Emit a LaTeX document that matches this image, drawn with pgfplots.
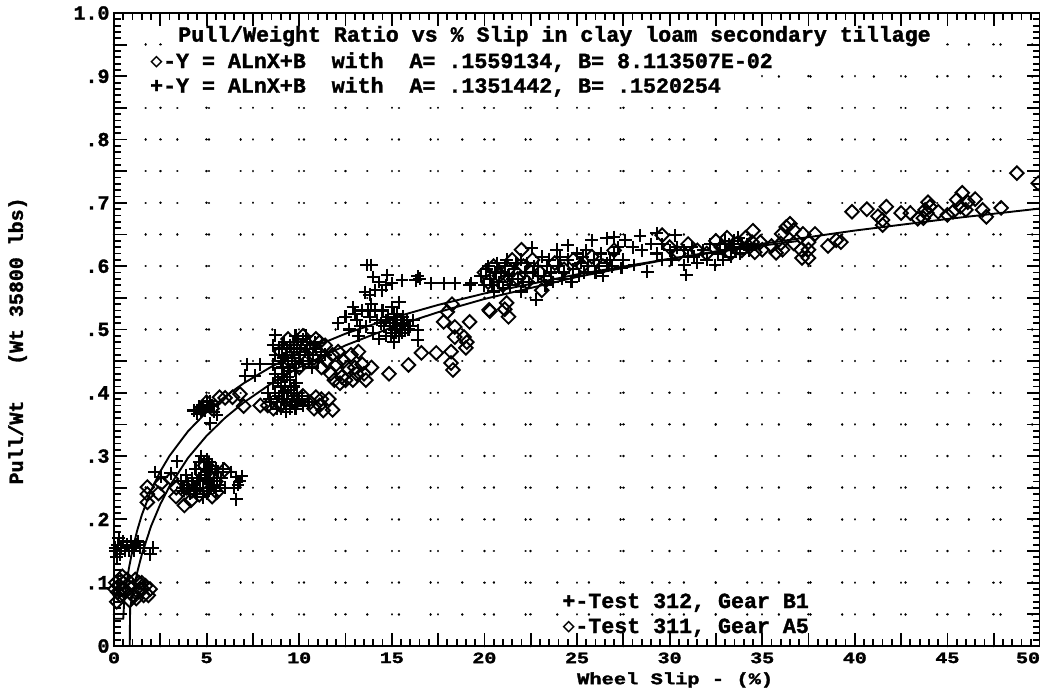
\documentclass[border=0pt]{standalone}
\usepackage{fontspec}
\usepackage{graphicx}
\usepackage{pgfplots}
\pgfplotsset{compat=1.18}
\setmainfont{Liberation Mono}[BoldFeatures={FakeBold=1.6}]
\newfontfamily\symfont{DejaVu Sans Mono}
\newcommand\sq[1]{\scalebox{1}[.8]{#1}}
\newcommand\dia{\makebox[.6em]{\symfont\bfseries\raisebox{.02em}{\scalebox{.95}{◇}}}}
\begin{document}
\begin{tikzpicture}[x=1bp,y=1bp]
\path[use as bounding box] (0,0) rectangle (1040,688);
\begin{axis}[
  at={(114bp,42bp)}, anchor=south west, scale only axis,
  width=926bp, height=633bp,
  xmin=0, xmax=50, ymin=0, ymax=1, clip=false,
  tick align=inside, axis line style={line width=2.6bp},
  major tick length=13bp, minor tick length=7bp,
  every tick/.style={black,line width=1.8bp},
  minor tick style={line width=1.8bp},
  xtick={0,2.5,...,50},
  xticklabels={\sq{0},,\sq{5},,\sq{10},,\sq{15},,\sq{20},,\sq{25},,\sq{30},,\sq{35},,\sq{40},,\sq{45},,\sq{\makebox[0pt][r]{50}}},
  ytick={0,.05,.1,.15,.2,.25,.3,.35,.4,.45,.5,.55,.6,.65,.7,.75,.8,.85,.9,.95,1},
  yticklabels={0,,.1,,.2,,.3,,.4,,.5,,.6,,.7,,.8,,.9,,1.0},
  minor x tick num=4, minor y tick num=4,
  tick label style={font=\fontsize{20}{20}\selectfont\bfseries},
  xtick pos=both, ytick pos=both,
  xticklabel pos=bottom, yticklabel pos=left,
  x tick label style={yshift=-3bp},
  y tick label style={xshift=-1bp},
  grid=major,
  major grid style={draw=black,line width=2.5bp,line cap=round,dash pattern=on 0.01pt off 31.65bp},
  xlabel={\sq{Wheel Slip - (\%)}},
  xlabel style={at={(axis cs:30.3,-.0537)},anchor=center,font=\fontsize{20.5}{20.5}\selectfont\bfseries},
  ylabel={Pull/Wt~~~(Wt 35800 lbs)},
  ylabel style={at={(axis cs:-5.2,.482)},anchor=center,font=\fontsize{20}{20}\selectfont\bfseries},
]
\fill[white] (axis cs:1.4,.9226) rectangle (axis cs:34.6,.8626);
\fill[white] (axis cs:3.3,.973) rectangle (axis cs:44.6,.9226);

% fitted curves
\addplot[black,line width=1.9bp,no marks] coordinates {
(.05,.043)(.5,.043)(.55,.07)(.6,.083)(.8,.1219)(1,.152)(1.25,.1822)(1.5,.2068)(2,.2457)(2.5,.2758)(3,.3005)(4,.3394)(5,.3695)(6,.3942)(7,.415)(8.5,.4412)(10,.4632)(12.5,.4934)(15,.518)(17.5,.5388)(20,.5569)(25,.587)(30,.6117)(35,.6325)(37,.640)};
\addplot[black,line width=1.9bp,no marks] coordinates {
(.85,0)(.87,.06)(1,.0811)(1.25,.1159)(1.5,.1443)(2,.1892)(2.5,.2240)(3,.2524)(4,.2973)(5,.3321)(6,.3605)(7,.3845)(8.5,.4148)(10,.4401)(12.5,.4749)(15,.5034)(17.5,.5273)(20,.5482)(25,.5830)(30,.6114)(35,.6354)(40,.6563)(45,.6746)(50,.6911)};

% Test 312, Gear B1
\addplot[only marks,mark=+,mark size=6.4bp,mark options={line width=2.1bp,black}] coordinates {
(.1,.15)(.2,.16)(.3,.145)(.4,.155)(.5,.165)(.6,.15)(.7,.16)(.8,.15)(.9,.165)(1,.155)(1.1,.15)(1.2,.16)(1.3,.165)(1.4,.155)(1.6,.155)(.15,.14)(.25,.17)(.05,.155)(2.1,.155)(1.95,.145)
(2.2,.275)(3.4,.292)(2.55,.267)(3.06,.273)(4.7,.30)(6.6,.267)(6.9,.268)(6.6,.232)(6.5,.25)(6.8,.26)(6.3,.275)(6.7,.255)
(3.6,.26)(3.8,.245)(3.9,.27)(4,.255)(4.1,.24)(4.2,.265)(4.3,.25)(4.4,.28)(4.5,.26)(4.5,.24)(4.6,.29)(4.7,.27)(4.8,.25)(4.8,.235)(4.9,.28)(5,.295)(5,.26)(5.1,.245)(5.2,.275)(5.3,.285)(5.3,.255)(5.4,.265)(5.5,.245)(5.6,.275)(5.7,.255)(5.8,.265)(6,.25)(5.9,.28)
(3.7,.25)(3.95,.26)(4.25,.255)(4.4,.245)(4.6,.265)(4.65,.25)(4.9,.265)(5,.24)(5.15,.26)(5.25,.25)(5.4,.25)(5.55,.26)(5.05,.275)(4.85,.29)(5.15,.29)(5.5,.28)
(4.3,.372)(4.5,.367)(4.6,.378)(4.7,.37)(4.8,.38)(4.9,.372)(5,.385)(5.1,.378)(5.2,.387)(5.3,.38)(5.4,.37)(5.2,.352)(5.56,.365)
(7.2,.445)(7.9,.445)(7.07,.427)(7.6,.427)
(8.7,.491)(8.6,.475)(8.7,.46)(8.6,.445)(8.9,.47)(9,.45)(9.2,.48)(9.3,.46)(9.1,.44)(9.5,.475)(9.6,.455)(9.4,.44)(9.8,.49)(9.9,.47)(10,.45)(9.8,.435)(10.2,.485)(10.3,.465)(10.2,.445)(10.6,.48)(10.5,.46)(10.7,.44)(10.9,.47)(11,.45)(11.2,.465)(11.4,.46)(9.7,.48)(10.1,.475)(9.2,.43)
(9.05,.47)(9.35,.47)(9.7,.465)(9.75,.445)(10.05,.46)(10.4,.475)(10.55,.45)(10.75,.46)(9.15,.455)(9.5,.435)(9.95,.485)(10.35,.49)(10.85,.48)(9.4,.45)
(8.3,.40)(8.5,.385)(8.6,.415)(8.8,.375)(8.9,.395)(9,.41)(9.2,.385)(9.3,.37)(9.4,.40)(9.5,.42)(9.6,.385)(9.8,.375)(9.9,.40)(10,.39)(10.2,.38)(10.5,.385)(9.1,.425)(8.7,.43)(9.7,.41)(8.4,.39)
(8.7,.40)(8.8,.385)(9,.375)(9.05,.39)(9.15,.40)(9.35,.39)(9.5,.375)(9.55,.405)(9.7,.395)(9.75,.38)(9.9,.385)(9.85,.415)(9.25,.41)(8.85,.42)(9.35,.425)(10.15,.395)
(12.1,.51)(12.5,.52)(12.7,.50)(12.9,.535)(13.1,.515)(13.2,.49)(13.4,.53)(13.6,.505)(13.8,.52)(13.9,.54)(14,.495)(14.2,.515)(14.3,.485)(14.5,.53)(14.6,.505)(14.7,.49)(14.8,.52)(14.9,.51)(15,.535)(15,.495)(15.1,.48)(15.2,.515)(15.3,.505)(15.3,.525)(15.4,.543)(15.4,.49)(15.5,.51)(15.6,.52)(15.7,.50)(15.8,.515)(16,.505)(16.15,.515)(16.4,.499)(16.4,.483)
(13,.525)(13.3,.505)(13.7,.53)(14.1,.53)(14.4,.51)(14.7,.515)(15.05,.51)(15.15,.5)(15.25,.495)(15.45,.50)(15.55,.495)(15.65,.51)(15.9,.5)(15.1,.525)(14.95,.49)
(13.65,.602)(13.9,.602)(14,.583)(13.55,.559)(14.75,.586)(14.45,.562)(15,.573)(15.55,.578)(16.4,.584)(16.5,.58)(16.3,.578)(17.1,.573)(17.8,.573)(18.4,.573)(19.3,.573)(14.1,.562)(13.8,.555)(14.3,.575)(14.7,.57)(19.2,.57)
(19.8,.585)(20,.57)(20.1,.595)(20.3,.58)(20.5,.56)(20.6,.59)(20.8,.575)(21,.565)(21.1,.60)(21.3,.585)(21.4,.57)(21.6,.595)(21.8,.58)(22,.56)(22,.61)(22.2,.59)(22.4,.575)(22.55,.629)(22.7,.60)(22.8,.547)(22.9,.585)(23.1,.615)(23.3,.57)(23.4,.60)(23.6,.59)(23.9,.626)(24,.60)(24.2,.58)(24.5,.633)(24.5,.61)(24.8,.595)(25,.62)(25.2,.605)(25.4,.59)(25.5,.625)(25.8,.641)(25.9,.61)(26.2,.60)(26.3,.62)(26.6,.644)(26.6,.605)(27,.646)(27,.62)(27.4,.597)(27.6,.641)(27.5,.61)(28,.63)(28.1,.602)(28.4,.648)(28.8,.591)(28.5,.625)(29,.635)(29.3,.652)(29.3,.62)(29.6,.635)(30,.625)(30.3,.649)(30.4,.63)(30.8,.602)(30.9,.586)(30.8,.625)(31.2,.63)(31.5,.605)(31.8,.625)(32.2,.635)(32.45,.602)(32.6,.62)(33,.64)(33,.625)(33.4,.63)(33.7,.645)(33.8,.62)(34.2,.635)
(20.2,.60)(20.7,.605)(21.2,.61)(21.7,.605)(22.3,.605)(22.9,.60)(23.2,.585)(23.7,.575)(24.3,.59)(24.7,.575)(25.1,.585)(25.6,.60)(26,.59)(26.4,.585)(26.9,.60)(27.2,.63)(20.4,.57)(20.9,.59)(21.5,.58)(22.1,.575)(22.6,.59)(23.5,.61)(24.1,.615)(25.3,.615)(26.8,.61)
(29.6,.61)(30.1,.61)(31,.615)(31.3,.615)(32,.61)(32.9,.61)(33.3,.615)(33.5,.64)(33.9,.635)(34.3,.625)(32.7,.635)(33.2,.635)
};

% Test 311, Gear A5
\addplot[only marks,mark=diamond,mark size=6.8bp,mark options={line width=1.9bp,black,xscale=1.33}] coordinates {
(.1,.1)(.2,.085)(.3,.105)(.4,.09)(.5,.1)(.6,.085)(.15,.07)(.7,.105)(.35,.08)(.05,.09)(.25,.095)(.45,.11)(.55,.09)
(1.15,.105)(1.3,.085)(1.4,.09)(1.5,.1)(1.6,.08)(1.7,.095)(1.85,.08)(1.2,.075)(1,.08)(.85,.072)(1.95,.09)(1.35,.1)(1.55,.09)
(1.8,.251)(1.8,.24)(1.8,.227)(2.4,.241)(3.36,.25)(3.35,.236)(3.8,.222)(3.1,.264)(2.55,.257)(5.3,.236)(5.95,.278)(4.15,.23)(4.6,.239)(5.55,.243)(5.2,.28)(4.9,.285)(4.2,.245)(3.9,.25)(4.7,.255)(5.5,.26)
(4.7,.375)(5,.385)(5.3,.375)(5.7,.393)(6,.392)(6.4,.393)(6.8,.398)(7,.379)
(9,.465)(9.4,.485)(9.8,.47)(10.2,.49)(10.6,.47)(10.9,.485)(11.1,.48)(11.4,.475)(10,.44)(9.5,.45)(10.4,.45)(10.8,.455)(11.2,.44)(11.5,.45)(11.8,.46)(12.1,.465)
(7.9,.38)(8.3,.38)(8.6,.375)(9,.38)(9.4,.395)(9.8,.385)(10.2,.395)(10.6,.385)(10.9,.393)(11.1,.38)(11.3,.372)(11.6,.39)(11.8,.373)(11.2,.39)(10.8,.375)
(11.7,.43)(12,.445)(12.3,.425)(12.6,.44)(12.9,.42)(12.4,.45)(12.8,.46)(13.1,.43)(13.4,.445)(13.6,.42)(13.2,.465)(13.9,.44)(13.5,.43)(12.2,.415)(12.5,.42)(13,.44)(11.9,.42)
(14.85,.43)(15.9,.444)(16.6,.463)(17.4,.463)(18.2,.465)(18.2,.447)(18.3,.436)(17.8,.512)(18.4,.504)(18.4,.488)(18.9,.488)(19.05,.48)(19,.471)(19.2,.512)(20.25,.531)(18,.528)(18.25,.54)
(22,.626)(29.6,.649)(20.3,.529)(21.2,.542)(21.1,.532)(21.3,.52)(23.1,.562)
(20,.59)(20.2,.575)(20.5,.6)(20.8,.585)(21,.57)(21.3,.595)(21.5,.61)(21.8,.58)(22.1,.6)(22.3,.575)(22.6,.61)(23,.59)(23.4,.58)(23.8,.605)(24.3,.595)(24.8,.61)(25.3,.6)(25.8,.615)(26.4,.60)(27,.625)
(30,.63)(30.5,.62)(31,.635)(31.5,.625)(32,.62)(32.5,.64)(32.8,.63)(33.1,.645)(33.3,.62)(33.6,.635)(33.9,.625)(34.1,.645)(34.3,.63)
(48.75,.747)(49.9,.731)(45.8,.716)(46.5,.706)(45.5,.705)(46.1,.701)(45.7,.694)(46,.689)(46.9,.689)(47.1,.678)(47.9,.692)(45.3,.686)(45,.681)(44.5,.686)(43.95,.701)(44.05,.694)(43.8,.689)(43.9,.684)(43.7,.676)(43.4,.675)(43,.684)(42.5,.684)(41.7,.694)(41.25,.679)(41.5,.673)(41.5,.665)(40.65,.69)(39.85,.686)
(38.55,.632)(39,.641)(39.25,.638)(37.85,.651)(37.2,.651)(37.5,.638)(37.5,.626)(37.15,.613)(37.5,.613)(37.1,.626)(36.5,.667)(36.3,.662)(36.05,.651)(36.7,.657)(34.5,.656)(34.9,.638)(35.75,.621)(36.1,.626)(34.6,.622)(35,.626)(34.45,.638)(36,.636)(36.7,.636)(35.5,.632)
};

\node[anchor=base west,inner sep=0pt,font=\fontsize{21.7}{21.7}\selectfont\bfseries] at (axis cs:3.46,.9547) {Pull/Weight Ratio vs \% Slip in clay loam secondary tillage};
\node[anchor=base west,inner sep=0pt,font=\fontsize{21.7}{21.7}\selectfont\bfseries] at (axis cs:1.94,.913) {\dia-Y = ALnX+B~~with~~A= .1559134, B= 8.113507E-02};
\node[anchor=base west,inner sep=0pt,font=\fontsize{21.7}{21.7}\selectfont\bfseries] at (axis cs:1.94,.874) {+-Y = ALnX+B~~with~~A= .1351442, B= .1520254};
\node[anchor=base west,inner sep=0pt,font=\fontsize{21.7}{21.7}\selectfont\bfseries] at (axis cs:24.2,.06) {+-Test 312, Gear B1};
\node[anchor=base west,inner sep=0pt,font=\fontsize{21.7}{21.7}\selectfont\bfseries] at (axis cs:24.2,.0205) {\dia-Test 311, Gear A5};
\end{axis}
\end{tikzpicture}
\end{document}
